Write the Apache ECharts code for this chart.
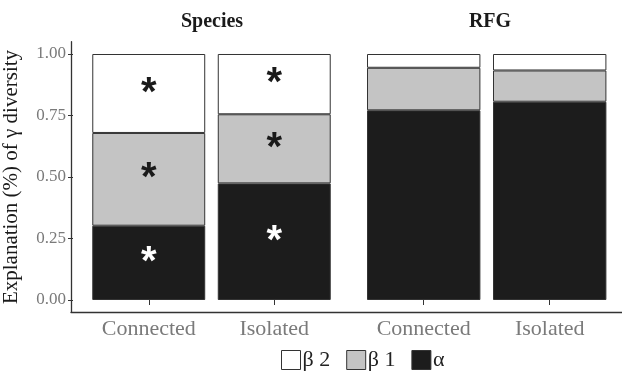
<!DOCTYPE html>
<html>
<head>
<meta charset="utf-8">
<script src="https://cdn.jsdelivr.net/npm/echarts@6/dist/echarts.min.js"></script>
<style>html,body{margin:0;padding:0;background:#fff;}#c{width:622px;height:372px;}</style>
</head>
<body>
<div id="c"></div>
<script>
// ---- data ----
var categories = ['Connected', 'Isolated'];
var panelTitles = ['Species', 'RFG'];
var yTicks = [0, 0.25, 0.5, 0.75, 1];
var speciesAlpha = [0.302, 0.474];
var speciesBeta1 = [0.377, 0.281];
var speciesBeta2 = [0.321, 0.245];
var rfgAlpha = [0.771, 0.806];
var rfgBeta1 = [0.173, 0.127];
var rfgBeta2 = [0.056, 0.067];
var speciesSigAlpha = ['*', '*'];
var speciesSigBeta1 = ['*', '*'];
var speciesSigBeta2 = ['*', '*'];
var rfgSig = ['', ''];

var FONT = "'Liberation Serif', 'Times New Roman', serif";
var colors = { 'α': '#1c1c1c', 'β1': '#c4c4c4', 'β2': '#ffffff' };
var starColor = { 'α': '#ffffff', 'β1': '#1a1a1a', 'β2': '#1a1a1a' };

function mkSeries(name, vals, sig, gi, stack) {
  return {
    type: 'bar', name: name, stack: stack,
    xAxisIndex: gi, yAxisIndex: gi,
    barWidth: '90%',
    itemStyle: { color: colors[name], borderColor: '#333', borderWidth: 1 },
    label: {
      show: true, position: 'inside',
      formatter: function (p) { return sig[p.dataIndex]; },
      color: starColor[name], fontFamily: "'Liberation Sans', sans-serif", fontWeight: 'bold', fontSize: 40
    },
    emphasis: { disabled: true },
    data: vals
  };
}

var chart = echarts.init(document.getElementById('c'), null, { renderer: 'canvas' });
function catAxis(gi) {
  return {
    gridIndex: gi, type: 'category', data: categories,
    axisLine: { show: false },
    axisTick: { show: true, alignWithLabel: true, length: 5, lineStyle: { color: '#333' } },
    axisLabel: { color: '#7a7a7a', fontFamily: FONT, fontSize: 22, margin: 6 },
    offset: 12.3
  };
}
chart.setOption({
  animation: false,
  title: [
    { text: panelTitles[0], left: 207, top: 7, textAlign: 'center',
      textStyle: { fontFamily: FONT, fontWeight: 'bold', fontSize: 20, color: '#1a1a1a' } },
    { text: panelTitles[1], left: 485, top: 7, textAlign: 'center',
      textStyle: { fontFamily: FONT, fontWeight: 'bold', fontSize: 20, color: '#1a1a1a' } }
  ],
  legend: {
    data: ['β2', 'β1', 'α'], left: 276, top: 344, icon: 'rect',
    itemWidth: 19, itemHeight: 19, itemGap: 16,
    formatter: function (n) { return n.replace('β', 'β '); },
    itemStyle: { borderColor: '#333', borderWidth: 1 },
    textStyle: { fontFamily: FONT, fontSize: 22, color: '#222', padding: [0, 0, 0, -3] },
    selectedMode: false
  },
  grid: [
    { left: 84, top: 54, width: 253, height: 246 },
    { left: 360.7, top: 54, width: 252, height: 246 },
    { left: 71, top: 41.7, width: 560, height: 270.6 }
  ],
  xAxis: [
    catAxis(0),
    catAxis(1),
    { gridIndex: 2, type: 'value', min: 0, max: 1,
      axisLine: { show: true, lineStyle: { color: '#333', width: 1.3 } },
      axisTick: { show: false }, axisLabel: { show: false }, splitLine: { show: false } }
  ],
  yAxis: [
    { gridIndex: 0, type: 'value', min: yTicks[0], max: yTicks[yTicks.length - 1], interval: 0.25,
      offset: 13,
      axisLine: { show: false },
      axisTick: { show: true, length: 5, lineStyle: { color: '#333' } },
      axisLabel: { color: '#7a7a7a', fontFamily: FONT, fontSize: 17, margin: 7,
        formatter: function (v) { return v.toFixed(2); } },
      splitLine: { show: false },
      name: 'Explanation (%) of γ diversity', nameLocation: 'middle', nameGap: 51,
      nameTextStyle: { fontFamily: FONT, fontSize: 21, color: '#1a1a1a' } },
    { gridIndex: 1, type: 'value', min: 0, max: 1, show: false },
    { gridIndex: 2, type: 'value', min: 0, max: 1,
      axisLine: { show: true, lineStyle: { color: '#333', width: 1.3 } },
      axisTick: { show: false }, axisLabel: { show: false }, splitLine: { show: false } }
  ],
  series: [
    mkSeries('α', speciesAlpha, speciesSigAlpha, 0, 'sp'),
    mkSeries('β1', speciesBeta1, speciesSigBeta1, 0, 'sp'),
    mkSeries('β2', speciesBeta2, speciesSigBeta2, 0, 'sp'),
    mkSeries('α', rfgAlpha, rfgSig, 1, 'rfg'),
    mkSeries('β1', rfgBeta1, rfgSig, 1, 'rfg'),
    mkSeries('β2', rfgBeta2, rfgSig, 1, 'rfg')
  ]
});
</script>
</body>
</html>
